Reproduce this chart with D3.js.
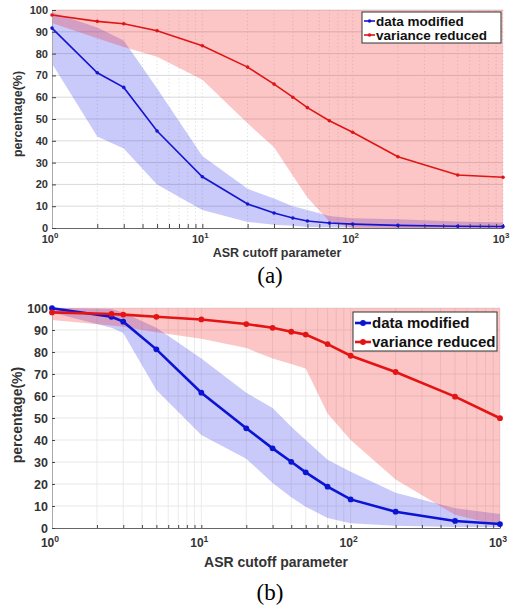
<!DOCTYPE html>
<html>
<meta charset="utf-8" />
<script src="https://d3js.org/d3.v7.min.js"></script>
<style>
  body { margin: 0; background: #fff; }
  svg { display: block; font-family: "Liberation Sans", Arial, sans-serif; }
</style>
<body>
<div id="chart"></div>
<script>
// panel (a)
const xA = [1, 2, 3, 5, 10, 20, 30, 40, 50, 70, 100, 200, 500, 1000];
const modA = [91.7, 71.2, 64.5, 44.5, 23.5, 11, 6.9, 4.6, 3.2, 2.3, 1.8, 1.2, 0.8, 0.7];
const modA_hi = [99, 92, 86, 64, 33, 18, 13.5, 10, 8.3, 5.5, 4.5, 4, 3, 2.5];
const modA_lo = [75.5, 42, 36.5, 20, 8.3, 2.8, 1.5, 1, 0.5, 0.3, 0.2, 0, 0, 0];
const varA = [97.7, 94.8, 93.7, 90.5, 83.6, 73.8, 66, 60, 55.2, 49.2, 43.9, 32.7, 24.3, 23.3];
const varA_hi = [100, 100, 100, 100, 100, 100, 100, 100, 100, 100, 100, 100, 100, 100];
const varA_lo = [94, 87, 83, 78.5, 68, 48, 37, 24, 14, 3, 0, 0, 0, 0];

// panel (b)
const xB = [1, 2.5, 3, 5, 10, 20, 30, 40, 50, 70, 100, 200, 500, 1000];
const modB = [99.9, 96, 93.8, 81.2, 61.5, 45.3, 36.2, 30.1, 25.3, 18.8, 13, 7.4, 3.2, 1.8];
const modB_hi = [100, 99.5, 98, 91, 77, 61.5, 54.5, 46, 40, 31, 25.6, 16, 9, 6.4];
const modB_lo = [98, 91, 88.6, 62.7, 42.3, 31.5, 20.4, 14, 9.7, 4.5, 2.2, 1, 0.5, 0.5];
const varB = [98, 97.3, 97, 96, 94.8, 92.7, 91, 89.2, 87.9, 83.6, 78.3, 70.9, 59.7, 49.9];
const varB_hi = [100, 100, 100, 100, 100, 100, 100, 100, 100, 100, 100, 100, 100, 100];
const varB_lo = [94.5, 92, 91.5, 89, 86, 81.8, 77, 74.5, 72.5, 52, 40, 22, 6, 1];

const yTicks = [0, 10, 20, 30, 40, 50, 60, 70, 80, 90, 100];
const decades = [1, 10, 100, 1000];
const seriesNames = ["data modified", "variance reduced"];
const panelLabels = ["(a)", "(b)"];

const svg = d3.select("#chart").append("svg").attr("width", 520).attr("height", 612);

// all minor tick positions 1..1000
const minors = [];
for (let d = 1; d < 1000; d *= 10) for (let k = 1; k < 10; k++) minors.push(d * k);
minors.push(1000);

function panel(o) {
  const x = d3.scaleLog().domain([1, 1000]).range([o.left, o.right]);
  const y = d3.scaleLinear().domain([0, 100]).range([o.bottom, o.top]);
  const g = svg.append("g");

  // grid
  g.append("g")
    .selectAll("line")
    .data(yTicks.slice(1))
    .join("line")
    .attr("x1", o.left).attr("x2", o.right)
    .attr("y1", d => y(d)).attr("y2", d => y(d))
    .attr("stroke", o.gridColor).attr("stroke-width", 0.8);
  g.append("g")
    .selectAll("line")
    .data(minors.slice(1))
    .join("line")
    .attr("x1", d => x(d)).attr("x2", d => x(d))
    .attr("y1", o.top).attr("y2", o.bottom)
    .attr("stroke", o.vGridColor).attr("stroke-width", 0.8)
    .attr("stroke-dasharray", o.gridDash);

  // shaded bands
  const area = d3.area().x(d => x(d.x)).y0(d => y(d.lo)).y1(d => y(d.hi));
  const bandMod = o.xs.map((v, i) => ({ x: v, lo: o.modLo[i], hi: o.modHi[i] }));
  const bandVar = o.xs.map((v, i) => ({ x: v, lo: o.varLo[i], hi: o.varHi[i] }));
  g.append("path").datum(bandMod).attr("d", area).attr("fill", "rgb(40,40,235)").attr("fill-opacity", 0.25);
  g.append("path").datum(bandVar).attr("d", area).attr("fill", "rgb(245,35,35)").attr("fill-opacity", 0.26);

  // axes
  const xAxis = d3.axisBottom(x).tickValues(minors).tickFormat("").tickSizeInner(-o.tick).tickSizeOuter(0);
  const ax = g.append("g").attr("transform", `translate(0,${o.bottom})`).call(xAxis);
  ax.select(".domain").attr("stroke", "#666");
  ax.selectAll(".tick line").attr("stroke", "#444");
  const yAxis = d3.axisLeft(y).tickValues(yTicks).tickFormat("").tickSizeInner(-o.tick).tickSizeOuter(0);
  const ay = g.append("g").attr("transform", `translate(${o.left},0)`).call(yAxis);
  ay.select(".domain").attr("stroke", "#aaa");
  ay.selectAll(".tick line").attr("stroke", "#444");

  // y tick labels
  g.append("g")
    .selectAll("text")
    .data(yTicks)
    .join("text")
    .attr("x", o.left - 4)
    .attr("y", d => y(d) + o.yFont * 0.36)
    .attr("text-anchor", "end")
    .attr("font-size", o.yFont)
    .attr("font-weight", "bold")
    .attr("fill", "#333")
    .text(d => d);

  // x tick labels 10^k
  const xl = g.append("g")
    .selectAll("text")
    .data(decades)
    .join("text")
    .attr("x", d => x(d) - 2)
    .attr("y", o.bottom + o.xLabDy)
    .attr("text-anchor", "middle")
    .attr("font-size", o.xFont)
    .attr("font-weight", "bold")
    .attr("fill", "#333");
  xl.append("tspan").text("10");
  xl.append("tspan").attr("dy", -o.xFont * 0.45).attr("font-size", o.xFont * 0.72).text(d => Math.round(Math.log10(d)));

  // lines
  const line = d3.line().x(d => x(d.x)).y(d => y(d.v));
  const lines = [
    { name: seriesNames[0], color: o.blue, pts: o.xs.map((v, i) => ({ x: v, v: o.mod[i] })) },
    { name: seriesNames[1], color: o.red, pts: o.xs.map((v, i) => ({ x: v, v: o.var[i] })) }
  ];
  lines.forEach(s => {
    g.append("path").datum(s.pts).attr("d", line).attr("fill", "none")
      .attr("stroke", s.color).attr("stroke-width", o.lw);
    g.append("g").selectAll("circle").data(s.pts).join("circle")
      .attr("cx", d => x(d.x)).attr("cy", d => y(d.v)).attr("r", o.mr).attr("fill", s.color);
  });

  // axis titles
  g.append("text")
    .attr("x", o.xTitleX).attr("y", o.xTitleY)
    .attr("text-anchor", "middle").attr("font-size", o.titleFont).attr("font-weight", "bold").attr("fill", "#333")
    .text("ASR cutoff parameter");
  g.append("text")
    .attr("transform", `translate(${o.yTitleX},${o.yTitleY}) rotate(-90)`)
    .attr("text-anchor", "middle").attr("font-size", o.titleFont).attr("font-weight", "bold").attr("fill", "#333")
    .text("percentage(%)");

  // panel label
  g.append("text")
    .attr("x", 270).attr("y", o.capY)
    .attr("text-anchor", "middle")
    .attr("font-family", "'Liberation Serif', 'Times New Roman', serif")
    .attr("font-size", 23).attr("fill", "#000")
    .text(o.caption);

  // legend
  const L = o.legend;
  const lg = g.append("g");
  lg.append("rect").attr("x", L.x).attr("y", L.y).attr("width", L.w).attr("height", L.h)
    .attr("fill", "#fff").attr("stroke", "#333").attr("stroke-width", 1);
  lines.forEach((s, i) => {
    const cy = L.y + L.row0 + i * L.step;
    lg.append("line").attr("x1", L.x + 2).attr("x2", L.x + L.sample).attr("y1", cy).attr("y2", cy)
      .attr("stroke", s.color).attr("stroke-width", o.lw);
    lg.append("circle").attr("cx", L.x + 2 + (L.sample - 2) / 2).attr("cy", cy).attr("r", o.mr).attr("fill", s.color);
    lg.append("text").attr("x", L.x + L.sample + 1).attr("y", cy + L.font * 0.36)
      .attr("font-size", L.font).attr("font-weight", "bold").attr("fill", "#111")
      .text(s.name);
  });
}

panel({
  xs: xA, mod: modA, modHi: modA_hi, modLo: modA_lo, var: varA, varHi: varA_hi, varLo: varA_lo,
  left: 52, right: 503, top: 10, bottom: 228,
  blue: "#1515d0", red: "#e01515", lw: 1.6, mr: 1.8,
  gridColor: "#cfcfcf", vGridColor: "#d6d6d6", gridDash: "1.2,2.4", tick: 4,
  yFont: 11, xFont: 11, xLabDy: 15, titleFont: 12.5,
  xTitleX: 277, xTitleY: 257, yTitleX: 22, yTitleY: 114,
  capY: 283, caption: panelLabels[0],
  legend: { x: 362, y: 12, w: 139, h: 31, row0: 9, step: 14, sample: 13, font: 13.5 }
});

panel({
  xs: xB, mod: modB, modHi: modB_hi, modLo: modB_lo, var: varB, varHi: varB_hi, varLo: varB_lo,
  left: 52, right: 500, top: 308, bottom: 528,
  blue: "#0a14d2", red: "#e51414", lw: 2.6, mr: 2.9,
  gridColor: "#e2e2e2", vGridColor: "#e6e6e6", gridDash: null, tick: 3,
  yFont: 12.5, xFont: 12, xLabDy: 19, titleFont: 14,
  xTitleX: 276, xTitleY: 567, yTitleX: 22, yTitleY: 415,
  capY: 600, caption: panelLabels[1],
  legend: { x: 353, y: 312, w: 144, h: 39, row0: 11, step: 19, sample: 18, font: 15 }
});
</script>
</body>
</html>
